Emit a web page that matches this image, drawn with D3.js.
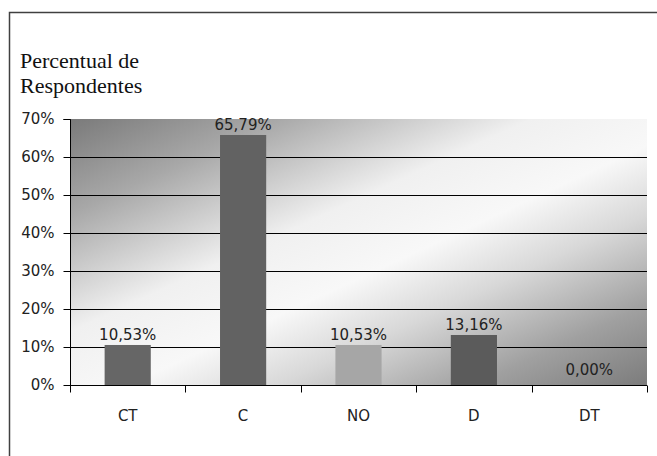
<!DOCTYPE html>
<html><head><meta charset="utf-8">
<script src="https://cdn.jsdelivr.net/npm/d3@7"></script>
<style>body{margin:0;background:#fff}svg{display:block}</style>
</head><body>
<script>
const categories = ["CT","C","NO","D","DT"];
const values = [10.53, 65.79, 10.53, 13.16, 0.00];
const labels = ["10,53%","65,79%","10,53%","13,16%","0,00%"];
const barColors = ["#666666","#626262","#a6a6a6","#5b5b5b","#5b5b5b"];
const yTicks = [0,10,20,30,40,50,60,70];
const titleLines = ["Percentual de","Respondentes"];

const W = 657, H = 456;
const svg = d3.select("body").append("svg").attr("width",W).attr("height",H);
const m = {left:70, right:10, top:119, bottom:71};
const x = d3.scaleBand().domain(categories).range([m.left, W-m.right]).paddingInner(0.6).paddingOuter(0.3);
const y = d3.scaleLinear().domain([0,70]).range([H-m.bottom, m.top]);

// frame
svg.append("rect").attr("x",9.5).attr("y",12.5).attr("width",700).attr("height",500)
  .attr("fill","none").attr("stroke","#404040").attr("stroke-width",1.5);

const defs = svg.append("defs");
const g = defs.append("linearGradient").attr("id","bg").attr("x1",0).attr("y1",0).attr("x2",1).attr("y2",1);
[[0,"#7a7a7a"],[0.18,"#a8a8a8"],[0.4,"#f0f0f0"],[0.55,"#f8f8f8"],[0.68,"#d8d8d8"],[0.85,"#a0a0a0"],[1,"#7c7c7c"]]
  .forEach(([o,c])=>g.append("stop").attr("offset",o).attr("stop-color",c));

svg.append("rect").attr("x",m.left).attr("y",m.top).attr("width",W-m.right-m.left).attr("height",H-m.bottom-m.top)
  .attr("fill","url(#bg)");

// gridlines
svg.append("g").selectAll("line").data(yTicks.filter(t=>t>0&&t<70)).join("line")
  .attr("x1",m.left).attr("x2",W-m.right).attr("y1",d=>Math.round(y(d))+0.5).attr("y2",d=>Math.round(y(d))+0.5)
  .attr("stroke","#000").attr("stroke-width",1);

// bars
svg.append("g").selectAll("rect").data(categories).join("rect")
  .attr("x",(d)=>x(d)).attr("width",x.bandwidth())
  .attr("y",(d,i)=>y(values[i])).attr("height",(d,i)=>y(0)-y(values[i]))
  .attr("fill",(d,i)=>barColors[i]);

// value labels
svg.append("g").selectAll("text").data(categories).join("text")
  .attr("x",d=>x(d)+x.bandwidth()/2).attr("y",(d,i)=>y(values[i])-(values[i]===0?10:5))
  .attr("text-anchor","middle").attr("font-family","DejaVu Sans").attr("font-size",15).attr("fill","#222")
  .text((d,i)=>labels[i]);

// y axis
const ya = d3.axisLeft(y).tickValues(yTicks).tickFormat(d=>d+"%").tickSize(7).tickPadding(9);
const yg = svg.append("g").attr("transform",`translate(${m.left+0.5},0)`).call(ya);
yg.select(".domain").attr("stroke","#000").attr("d",`M-7,${y(70)+0.5}H0V${y(0)}`);
yg.selectAll("text").attr("font-family","DejaVu Sans").attr("font-size",15).attr("fill","#222");

// x axis
const xa = d3.axisBottom(x).tickSize(0).tickPadding(25);
const xg = svg.append("g").attr("transform",`translate(0,${Math.round(y(0))+0.5})`).call(xa);
xg.select(".domain").attr("stroke","#000").attr("d",`M${m.left},0H${W-m.right}`);
xg.selectAll("text").attr("font-family","DejaVu Sans").attr("font-size",15).attr("fill","#222");
const bounds = categories.map(c=>x(c)-x.step()*x.paddingInner()/2);
bounds[0] = m.left; bounds.push(W-m.right);
xg.append("g").selectAll("line").data(bounds).join("line")
  .attr("x1",d=>Math.round(d)+0.5).attr("x2",d=>Math.round(d)+0.5).attr("y1",0).attr("y2",7).attr("stroke","#000");

// title
svg.append("g").selectAll("text").data(titleLines).join("text")
  .attr("x",20).attr("y",(d,i)=>68+i*25)
  .attr("font-family","Liberation Serif").attr("font-size",22).attr("fill","#111").text(d=>d);
</script>
</body></html>
